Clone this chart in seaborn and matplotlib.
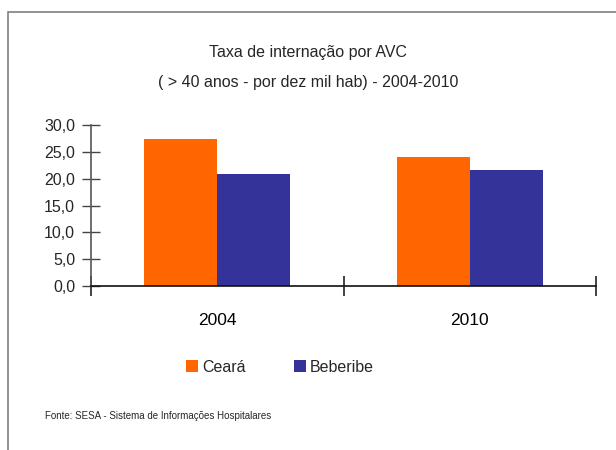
import pandas as pd
import matplotlib
matplotlib.use("Agg")
import matplotlib.pyplot as plt
import seaborn as sns
from matplotlib.patches import Rectangle, Patch
from matplotlib.ticker import FixedLocator, FuncFormatter

# Chart data
years = ["2004", "2010"]
regions = ["Ceará", "Beberibe"]
ceara = [27.4, 24.0]
beberibe = [20.9, 21.6]
colors = ["#FF6600", "#333399"]

data = pd.DataFrame({
    "Ano": years * 2,
    "Local": [regions[0]] * 2 + [regions[1]] * 2,
    "Taxa": ceara + beberibe,
})

sns.set_style("white")
plt.rcParams["font.family"] = ["Liberation Sans", "DejaVu Sans"]

fig = plt.figure(figsize=(6.16, 4.5), dpi=100)
ax = fig.add_axes([91 / 616, 1 - 286 / 450, 505 / 616, 161 / 450])

sns.barplot(data=data, x="Ano", y="Taxa", hue="Local", palette=colors,
            width=0.58, gap=0, saturation=1, legend=False, linewidth=0, ax=ax)

ax.set_xlim(-0.5, 1.5)
ax.set_ylim(0, 30)
ax.set_yticks([0, 5, 10, 15, 20, 25, 30])
ax.yaxis.set_major_formatter(FuncFormatter(lambda v, p: f"{v:.1f}".replace(".", ",")))
ax.set_xlabel("")
ax.set_ylabel("")

# category separators as tick marks
ax.xaxis.set_minor_locator(FixedLocator([-0.5, 0.5, 1.5]))
ax.tick_params(axis="x", which="major", bottom=False, labelsize=12.5, pad=16, colors="black")
ax.tick_params(axis="x", which="minor", bottom=True, length=14, width=1.2,
               direction="inout", color="#222222")
ax.tick_params(axis="y", left=True, length=13, width=1, direction="inout",
               labelsize=11.5, pad=5, color="#444444")

for s in ["top", "right"]:
    ax.spines[s].set_visible(False)
ax.spines["left"].set_color("#555555")
ax.spines["left"].set_linewidth(1.2)
ax.spines["bottom"].set_color("#111111")
ax.spines["bottom"].set_linewidth(1.2)

fig.text(0.5, 1 - 52 / 450, "Taxa de internação por AVC", ha="center", va="center", fontsize=11.5)
fig.text(0.5, 1 - 82 / 450, "( > 40 anos - por dez mil hab) - 2004-2010", ha="center", va="center", fontsize=11.5)

handles = [Patch(facecolor=c, edgecolor="none") for c in colors]
fig.legend(handles, regions, loc="center", bbox_to_anchor=(280 / 616, 1 - 367 / 450),
           ncol=2, frameon=False, fontsize=11.5, handlelength=0.75, handleheight=0.75,
           handletextpad=0.25, columnspacing=3.0)

fig.text(45 / 616, 1 - 416 / 450, "Fonte: SESA - Sistema de Informações Hospitalares",
         ha="left", va="center", fontsize=7)

# outer frame of the original chart area
fig.patches.append(Rectangle((8 / 616, -0.05), 1.0, 1 - 12 / 450 + 0.05,
                             transform=fig.transFigure, fill=False,
                             edgecolor="#808080", linewidth=1.2))

fig.savefig("out.png", dpi=100)
